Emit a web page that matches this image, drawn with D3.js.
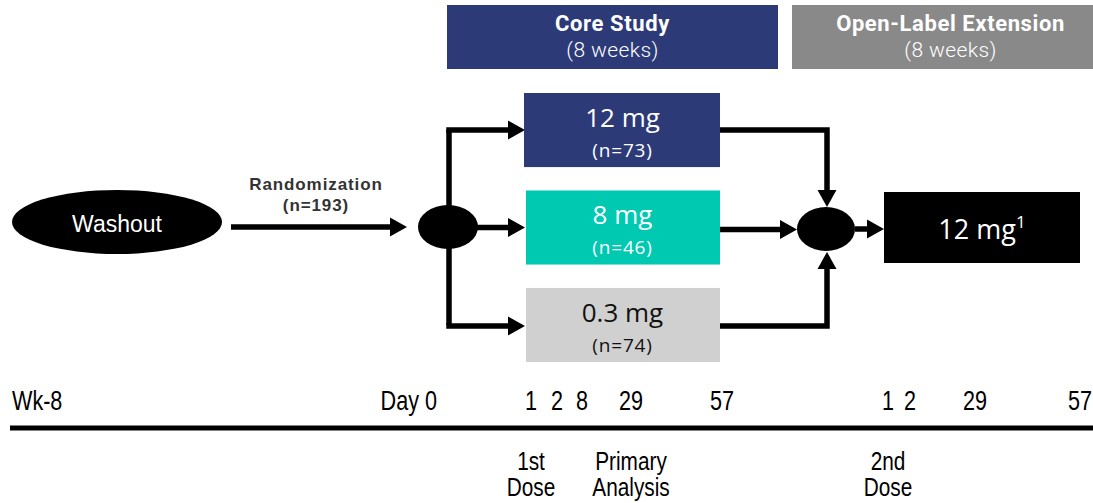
<!DOCTYPE html>
<html>
<head>
<meta charset="utf-8">
<script src="https://cdn.jsdelivr.net/npm/d3@7"></script>
<style>
body { margin: 0; background: #fff; }
</style>
</head>
<body>
<div id="chart"></div>
<script>
// study phases (header boxes)
var phases = ["Core Study", "Open-Label Extension"];
var phaseDur = ["(8 weeks)", "(8 weeks)"];
// randomized arms
var arms = ["12 mg", "8 mg", "0.3 mg"];
var armN = [73, 46, 74];
var totalN = 193;
// timeline ticks
var coreDays = [1, 2, 8, 29, 57];
var oleDays = [1, 2, 29, 57];
var milestones = [["1st", "Dose"], ["Primary", "Analysis"], ["2nd", "Dose"]];
var milestoneDay = [["core", 1], ["core", 29], ["ole", 1]];

var W = 1093, H = 503;
var navy = "#2d3a78", teal = "#00c9b1", lgray = "#d0d0d0", hgray = "#898989";
var armFill = [navy, teal, lgray];
var armText = ["#fff", "#fff", "#111"];

var svg = d3.select("#chart").append("svg")
  .attr("width", W).attr("height", H);

// piecewise scales for the two phases of the timeline
var xCore = d3.scaleLinear().domain([1, 2, 8, 29, 57]).range([531, 557, 582, 631, 722]);
var xOle = d3.scaleLinear().domain([1, 2, 29, 57]).range([888, 910, 975, 1080]);

// vertical band for arms
var yArm = d3.scaleBand().domain(arms).range([93, 362]).paddingInner(0.24);
var armCenter = function(a){ return yArm(a) + yArm.bandwidth()/2; };
var midY = armCenter(arms[1]);

// header boxes
var hdr = [{x0: 447, x1: 778, fill: navy}, {x0: 792, x1: W, fill: hgray}];
var hg = svg.selectAll(".hdr").data(phases).enter().append("g").attr("class", "hdr");
hg.append("rect")
  .attr("x", function(d, i){ return hdr[i].x0; })
  .attr("width", function(d, i){ return hdr[i].x1 - hdr[i].x0; })
  .attr("y", 5).attr("height", 64)
  .attr("fill", function(d, i){ return hdr[i].fill; });
hg.append("text")
  .attr("x", function(d, i){ return (hdr[i].x0 + hdr[i].x1)/2 + (i ? 8 : 0); })
  .attr("y", 31)
  .attr("text-anchor", "middle")
  .attr("fill", "#fff")
  .style("font-family", "Roboto, sans-serif")
  .style("font-weight", "bold")
  .style("font-size", "22px")
  .style("letter-spacing", "0.6px")
  .text(function(d){ return d; });
hg.append("text")
  .attr("x", function(d, i){ return (hdr[i].x0 + hdr[i].x1)/2 + (i ? 8 : 0); })
  .attr("y", 57)
  .attr("text-anchor", "middle")
  .attr("fill", "#fff")
  .style("font-family", "Roboto, sans-serif")
  .style("font-weight", "300")
  .style("font-size", "21px")
  .style("letter-spacing", "0.4px")
  .text(function(d, i){ return phaseDur[i]; });

// washout ellipse
svg.append("ellipse")
  .attr("cx", 117).attr("cy", 222).attr("rx", 105).attr("ry", 32)
  .attr("fill", "#000");
svg.append("text")
  .attr("x", 117).attr("y", 232)
  .attr("text-anchor", "middle")
  .attr("fill", "#fff")
  .style("font-family", "'Liberation Sans', Arial, sans-serif")
  .style("font-size", "23px")
  .text("Washout");

// arrows
var SW = 5.5;
function arrow(pts, dir){
  var line = d3.line();
  var last = pts[pts.length - 1], hl = 17, hw = 9.5, base;
  if (dir == "r") base = [last[0] - hl, last[1]];
  if (dir == "d") base = [last[0], last[1] - hl];
  if (dir == "u") base = [last[0], last[1] + hl];
  var shaft = pts.slice(0, -1).concat([base]);
  svg.append("path").attr("d", line(shaft))
    .attr("fill", "none").attr("stroke", "#000").attr("stroke-width", SW)
    .attr("stroke-linejoin", "miter");
  var tri;
  if (dir == "r") tri = [[base[0], base[1] - hw], last, [base[0], base[1] + hw]];
  if (dir == "d") tri = [[base[0] - hw, base[1]], last, [base[0] + hw, base[1]]];
  if (dir == "u") tri = [[base[0] - hw, base[1]], last, [base[0] + hw, base[1]]];
  svg.append("path").attr("d", line(tri) + "Z").attr("fill", "#000");
}

arrow([[231, 227], [407, 227]], "r");
svg.append("text").attr("x", 316).attr("y", 190).attr("text-anchor", "middle")
  .attr("fill", "#333")
  .style("font-family", "'Liberation Sans', Arial, sans-serif")
  .style("font-weight", "bold").style("font-size", "17px").style("letter-spacing", "0.9px")
  .text("Randomization");
svg.append("text").attr("x", 316).attr("y", 211).attr("text-anchor", "middle")
  .attr("fill", "#333")
  .style("font-family", "'Liberation Sans', Arial, sans-serif")
  .style("font-weight", "bold").style("font-size", "17px").style("letter-spacing", "0.9px")
  .text("(n=" + totalN + ")");

// split node
var splitX = 449, boxL = 525, boxR = 720, mergeX = 827;
svg.append("path")
  .attr("d", d3.line()([[splitX, armCenter(arms[0]) + 0], [splitX, armCenter(arms[2])]]))
  .attr("stroke", "#000").attr("stroke-width", SW);
arrow([[splitX - SW/2, armCenter(arms[0])], [boxL, armCenter(arms[0])]], "r");
arrow([[splitX, midY], [boxL, midY]], "r");
arrow([[splitX - SW/2, armCenter(arms[2]) + 1], [boxL, armCenter(arms[2]) + 1]], "r");
svg.append("ellipse").attr("cx", splitX - 1).attr("cy", 227).attr("rx", 30).attr("ry", 22).attr("fill", "#000");

// arm boxes
var ag = svg.selectAll(".arm").data(arms).enter().append("g").attr("class", "arm");
ag.append("rect")
  .attr("x", function(d, i){ return i ? boxL + 1 : boxL - 1; })
  .attr("width", function(d, i){ return boxR - (i ? boxL + 1 : boxL - 1); })
  .attr("y", function(d){ return yArm(d); })
  .attr("height", yArm.bandwidth())
  .attr("fill", function(d, i){ return armFill[i]; });
ag.append("text")
  .attr("x", (boxL + boxR)/2)
  .attr("y", function(d){ return yArm(d) + 34; })
  .attr("text-anchor", "middle")
  .attr("fill", function(d, i){ return armText[i]; })
  .style("font-family", "'Open Sans', sans-serif")
  .style("font-size", "26px")
  .text(function(d){ return d; });
ag.append("text")
  .attr("x", (boxL + boxR)/2)
  .attr("y", function(d){ return yArm(d) + 64; })
  .attr("text-anchor", "middle")
  .attr("fill", function(d, i){ return armText[i]; })
  .style("font-family", "'Open Sans', sans-serif")
  .style("font-size", "19px")
  .style("letter-spacing", "0.8px")
  .text(function(d, i){ return "(n=" + armN[i] + ")"; });

// merge node
arrow([[boxR, armCenter(arms[0])], [mergeX, armCenter(arms[0])], [mergeX, 207]], "d");
arrow([[boxR, midY + 2], [797, midY + 2]], "r");
arrow([[boxR, armCenter(arms[2]) + 1], [mergeX, armCenter(arms[2]) + 1], [mergeX, 252]], "u");
svg.append("ellipse").attr("cx", 826).attr("cy", 229).attr("rx", 29).attr("ry", 22).attr("fill", "#000");
arrow([[855, 229], [884, 229]], "r");

// extension box
svg.append("rect").attr("x", 884).attr("y", 192).attr("width", 196).attr("height", 71).attr("fill", "#000");
var ext = svg.append("text").attr("x", 982).attr("y", 239).attr("text-anchor", "middle")
  .attr("fill", "#fff")
  .style("font-family", "'Open Sans', sans-serif")
  .style("font-size", "27px");
ext.append("tspan").text(arms[0]);
ext.append("tspan").attr("dy", -11).style("font-size", "17px").text("1");

// timeline (narrow text: horizontally squeezed)
var axFont = "'Liberation Sans', Arial, sans-serif", sq = 0.8, fs = "27px";
function narrow(x, y, txt, anchor, size){
  svg.append("text")
    .attr("transform", "translate(" + x + "," + y + ") scale(" + sq + ",1)")
    .attr("text-anchor", anchor || "middle")
    .style("font-family", axFont).style("font-size", size || fs)
    .text(txt);
}
narrow(12, 410, "Wk-8", "start");
narrow(437, 410, "Day 0", "end");
coreDays.forEach(function(d){ narrow(xCore(d), 410, d); });
oleDays.forEach(function(d){ narrow(xOle(d), 410, d); });

svg.append("line").attr("x1", 10).attr("x2", W).attr("y1", 428).attr("y2", 428)
  .attr("stroke", "#000").attr("stroke-width", 5);

milestones.forEach(function(d, i){
  var md = milestoneDay[i];
  var x = md[0] == "core" ? xCore(md[1]) : xOle(md[1]);
  narrow(x, 470, d[0], "middle", "26px");
  narrow(x, 496, d[1], "middle", "26px");
});
</script>
</body>
</html>
